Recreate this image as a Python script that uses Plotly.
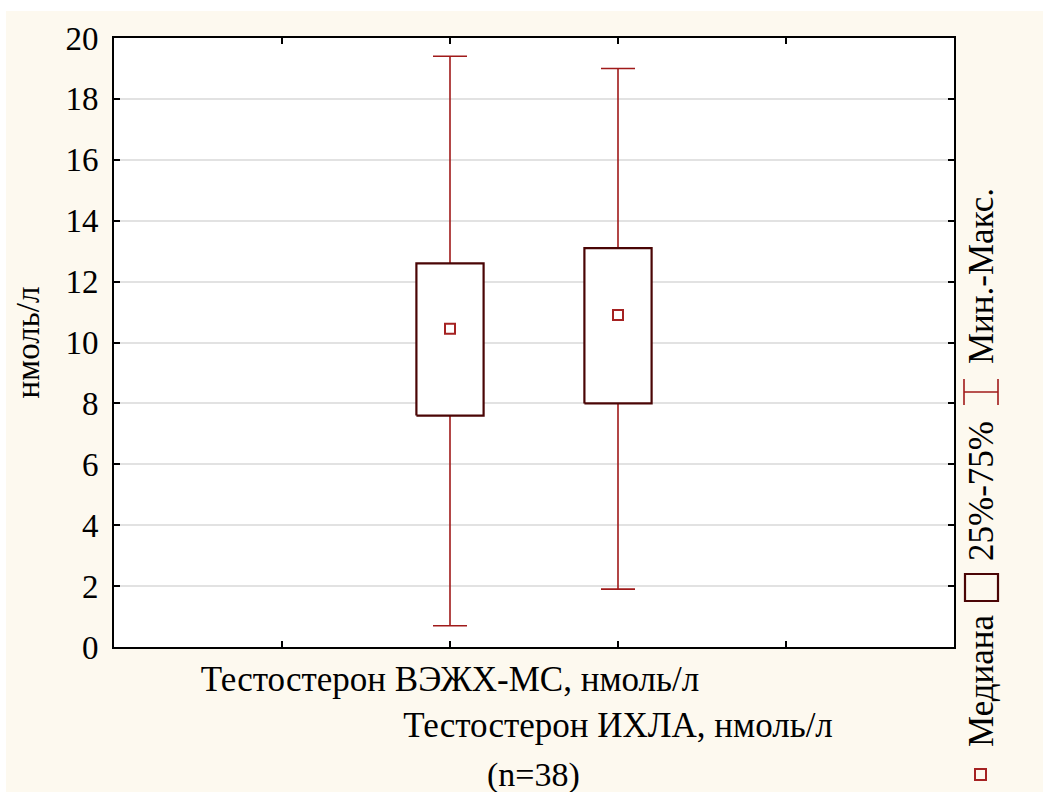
import plotly.graph_objects as go

# ---- data ----
categories = ["Тестостерон ВЭЖХ-МС, нмоль/л", "Тестостерон ИХЛА, нмоль/л"]
mins = [0.7, 1.9]
q1 = [7.6, 8.0]
medians = [10.45, 10.9]
q3 = [12.6, 13.1]
maxs = [19.4, 19.0]
y_tick_values = list(range(0, 21, 2))
x_axis_title = "(n=38)"
y_axis_title = "нмоль/л"
legend_labels = ["Медиана", "25%-75%", "Мин.-Макс."]

# ---- style ----
FONT = "Liberation Serif"
CREAM = "#fdf9ef"
BOX_COL = "#4a0505"
WHISK_COL = "#a01a1a"
MED_COL = "#a52222"
W, H = 1043, 792
ML, MR, MT, MB = 114, 89, 38, 145
PW, PH = W - ML - MR, H - MT - MB

xpos = [i + 2 for i in range(len(categories))]
hw = 0.2  # half box width (axis units)

def px(x):
    return (x - ML) / PW

def py(y):
    return (H - MB - y) / PH

fig = go.Figure()

# whiskers (min-max) as error bars around the median
fig.add_trace(go.Scatter(
    x=xpos, y=medians, mode="markers",
    marker=dict(size=1, color="rgba(0,0,0,0)"),
    error_y=dict(type="data", symmetric=False,
                 array=[mx - m for mx, m in zip(maxs, medians)],
                 arrayminus=[m - mn for m, mn in zip(medians, mins)],
                 color=WHISK_COL, thickness=1.6, width=17),
    showlegend=False, hoverinfo="skip"))

# boxes (25%-75%) as filled rectangles
bx, by = [], []
for p, a, b in zip(xpos, q1, q3):
    bx += [p - hw, p + hw, p + hw, p - hw, p - hw, None]
    by += [a, a, b, b, a, None]
fig.add_trace(go.Scatter(
    x=bx, y=by, mode="lines", fill="toself", fillcolor="white",
    line=dict(color=BOX_COL, width=2.2), showlegend=False, hoverinfo="skip"))

# medians
fig.add_trace(go.Scatter(
    x=xpos, y=medians, mode="markers",
    marker=dict(symbol="square-open", size=10, color=MED_COL,
                line=dict(color=MED_COL, width=2)),
    showlegend=False))

shapes = []
# white strips at top and left of the page (cream panel)
shapes.append(dict(type="rect", xref="paper", yref="paper", layer="below",
                   x0=px(0), x1=px(W), y0=py(11), y1=py(0),
                   fillcolor="white", line=dict(width=0)))
shapes.append(dict(type="rect", xref="paper", yref="paper", layer="below",
                   x0=px(0), x1=px(6), y0=py(H), y1=py(0),
                   fillcolor="white", line=dict(width=0)))
# legend symbols
shapes.append(dict(type="rect", xref="paper", yref="paper",
                   x0=px(975), x1=px(986), y0=py(780), y1=py(769),
                   line=dict(color=MED_COL, width=2), fillcolor="rgba(0,0,0,0)"))
shapes.append(dict(type="rect", xref="paper", yref="paper",
                   x0=px(965), x1=px(998), y0=py(601), y1=py(574),
                   line=dict(color=BOX_COL, width=2.2), fillcolor="rgba(0,0,0,0)"))
shapes.append(dict(type="line", xref="paper", yref="paper",
                   x0=px(964), x1=px(998), y0=py(392), y1=py(392),
                   line=dict(color=WHISK_COL, width=1.6)))
for xx in (964, 998):
    shapes.append(dict(type="line", xref="paper", yref="paper",
                       x0=px(xx), x1=px(xx), y0=py(405), y1=py(379),
                       line=dict(color=WHISK_COL, width=1.6)))

annotations = []
for label, ycen in zip(legend_labels, [681, 491, 276]):
    annotations.append(dict(text=label, xref="paper", yref="paper",
                            x=px(981), y=py(ycen), xanchor="center", yanchor="middle",
                            textangle=-90, showarrow=False,
                            font=dict(family=FONT, size=35, color="black")))
annotations.append(dict(text=x_axis_title, xref="paper", yref="paper",
                        x=px(533), y=py(775), xanchor="center", yanchor="middle",
                        showarrow=False, font=dict(family=FONT, size=34, color="black")))

ticktext = ["", categories[0], "<br>" + categories[1], ""]

fig.update_layout(
    width=W, height=H,
    margin=dict(l=ML, r=MR, t=MT, b=MB, pad=0, autoexpand=False),
    paper_bgcolor=CREAM, plot_bgcolor="white",
    font=dict(family=FONT, size=33, color="black"),
    shapes=shapes, annotations=annotations,
    showlegend=False,
    xaxis=dict(range=[0, 5], tickmode="array", tickvals=[1, 2, 3, 4], ticktext=ticktext,
               tickangle=0, automargin=False,
               ticks="inside", ticklen=6, tickwidth=1.5, tickcolor="black",
               showline=True, linecolor="black", linewidth=2, mirror="ticks",
               showgrid=False, zeroline=False, ticklabelstandoff=0,
               tickfont=dict(family=FONT, size=35, color="black")),
    yaxis=dict(range=[0, 20], tickmode="array", tickvals=y_tick_values,
               automargin=False,
               ticks="inside", ticklen=6, tickwidth=1.5, tickcolor="black",
               showline=True, linecolor="black", linewidth=2, mirror="ticks",
               showgrid=True, gridcolor="#e2e2e2", gridwidth=1.5, zeroline=False,
               ticklabelstandoff=7,
               tickfont=dict(family=FONT, size=33, color="black"),
               title=dict(text=y_axis_title, standoff=16,
                          font=dict(family=FONT, size=33, color="black"))),
)

fig.write_html("out.html", config={"displayModeBar": False},
               post_script="document.body.style.margin='0';document.body.style.overflow='hidden';")
